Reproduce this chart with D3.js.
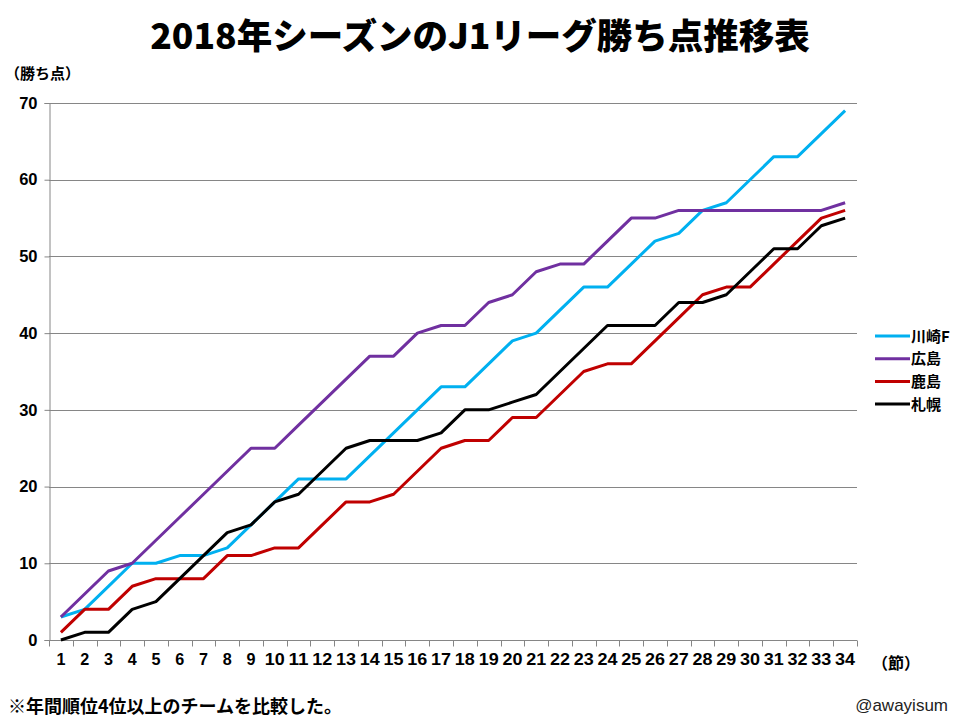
<!DOCTYPE html>
<html>
<head>
<meta charset="utf-8">
<script src="https://cdn.jsdelivr.net/npm/d3@7"></script>
<style>
  html, body { margin: 0; padding: 0; background: #fff; }
  svg { display: block; }
  text { font-family: "Liberation Sans", Arial, "Noto Sans CJK JP", sans-serif; }
  .jp { font-family: "Noto Sans CJK JP", "Liberation Sans", sans-serif; }
</style>
</head>
<body>
<svg id="chart" width="960" height="720"></svg>
<script>
const title = "2018年シーズンのJ1リーグ勝ち点推移表";
const yTitle = "（勝ち点）";
const xTitle = "（節）";
const footnote = "※年間順位4位以上のチームを比較した。";
const credit = "@awayisum";

const rounds = d3.range(1, 35);
const yTicks = [0, 10, 20, 30, 40, 50, 60, 70];

const seriesNames = ["川崎F", "広島", "鹿島", "札幌"];
const seriesColors = ["#00B0F0", "#7030A0", "#C00000", "#000000"];

const kawasaki = [3, 4, 7, 10, 10, 11, 11, 12, 15, 18, 21, 21, 21, 24, 27, 30, 33, 33, 36, 39, 40, 43, 46, 46, 49, 52, 53, 56, 57, 60, 63, 63, 66, 69];
const hiroshima = [3, 6, 9, 10, 13, 16, 19, 22, 25, 25, 28, 31, 34, 37, 37, 40, 41, 41, 44, 45, 48, 49, 49, 52, 55, 55, 56, 56, 56, 56, 56, 56, 56, 57];
const kashima = [1, 4, 4, 7, 8, 8, 8, 11, 11, 12, 12, 15, 18, 18, 19, 22, 25, 26, 26, 29, 29, 32, 35, 36, 36, 39, 42, 45, 46, 46, 49, 52, 55, 56];
const sapporo = [0, 1, 1, 4, 5, 8, 11, 14, 15, 18, 19, 22, 25, 26, 26, 26, 27, 30, 30, 31, 32, 35, 38, 41, 41, 41, 44, 44, 45, 48, 51, 51, 54, 55];

const seriesValues = [kawasaki, hiroshima, kashima, sapporo];

const svg = d3.select("#chart");
const pLeft = 49, pRight = 857, pTop = 103, pBottom = 640;
const grid = "#868686";

const x = d3.scaleBand().domain(rounds).range([pLeft, pRight]).padding(0);
const y = d3.scaleLinear().domain([0, 70]).range([pBottom, pTop]);

// Title
svg.append("text").attr("class", "jp")
  .attr("x", 480).attr("y", 49)
  .attr("text-anchor", "middle")
  .attr("font-size", 35.5).attr("font-weight", 900)
  .attr("fill", "#000")
  .text(title);

// gridlines
svg.append("g").selectAll("line")
  .data(yTicks.filter(d => d > 0))
  .join("line")
  .attr("x1", pLeft).attr("x2", pRight)
  .attr("y1", d => Math.round(y(d)) + 0.5).attr("y2", d => Math.round(y(d)) + 0.5)
  .attr("stroke", grid).attr("stroke-width", 1);

// Y axis
const yAxis = svg.append("g")
  .attr("transform", `translate(${pLeft + 0.5},0)`)
  .call(d3.axisLeft(y).tickValues(yTicks).tickSize(5).tickPadding(7));
yAxis.select(".domain").attr("stroke", grid);
yAxis.selectAll(".tick line").attr("stroke", grid);
yAxis.selectAll(".tick text")
  .attr("font-size", 16.5).attr("font-weight", "bold").attr("fill", "#000")
  .style("font-family", "'Liberation Sans', Arial, sans-serif");

// X axis with ticks at band boundaries
const xAxisG = svg.append("g").attr("transform", `translate(0,${pBottom + 0.5})`);
xAxisG.append("line").attr("x1", pLeft).attr("x2", pRight).attr("stroke", grid);
const bounds = rounds.map(r => x(r)).concat([pRight]);
xAxisG.selectAll("line.tk").data(bounds).join("line").attr("class", "tk")
  .attr("x1", d => Math.round(d) + 0.5).attr("x2", d => Math.round(d) + 0.5)
  .attr("y1", 0).attr("y2", 6).attr("stroke", grid);
xAxisG.selectAll("text").data(rounds).join("text")
  .attr("x", d => x(d) + x.bandwidth() / 2)
  .attr("y", 24)
  .attr("text-anchor", "middle")
  .attr("font-size", 17).attr("font-weight", "bold")
  .attr("textLength", d => d >= 10 ? 20 : 9)
  .attr("lengthAdjust", "spacingAndGlyphs")
  .text(d => d);

// Lines
const line = d3.line()
  .x((d, i) => x(rounds[i]) + x.bandwidth() / 2)
  .y(d => y(d));
svg.append("g").selectAll("path")
  .data(seriesValues)
  .join("path")
  .attr("d", d => line(d))
  .attr("fill", "none")
  .attr("stroke", (d, i) => seriesColors[i])
  .attr("stroke-width", 3)
  .attr("stroke-linejoin", "round");

// Legend
const lg = svg.append("g").attr("transform", "translate(875,336)");
seriesNames.forEach((n, i) => {
  const gy = i * 22.7;
  lg.append("line").attr("x1", 0).attr("x2", 35).attr("y1", gy).attr("y2", gy)
    .attr("stroke", seriesColors[i]).attr("stroke-width", 3);
  lg.append("text").attr("class", "jp").attr("x", 36).attr("y", gy + 5.5)
    .attr("font-size", 15).attr("font-weight", "bold").attr("fill", "#000")
    .text(n);
});

// axis titles
svg.append("text").attr("class", "jp").attr("x", 5).attr("y", 79)
  .attr("font-size", 15).attr("font-weight", "bold").text(yTitle);
svg.append("text").attr("class", "jp").attr("x", 872).attr("y", 669)
  .attr("font-size", 16).attr("font-weight", "bold").text(xTitle);

// footnote and credit
svg.append("text").attr("class", "jp").attr("x", 8).attr("y", 713)
  .attr("font-size", 18).attr("font-weight", "bold").text(footnote);
svg.append("text").attr("x", 948).attr("y", 711)
  .attr("text-anchor", "end")
  .attr("font-size", 17).attr("fill", "#222").text(credit);
</script>
</body>
</html>
